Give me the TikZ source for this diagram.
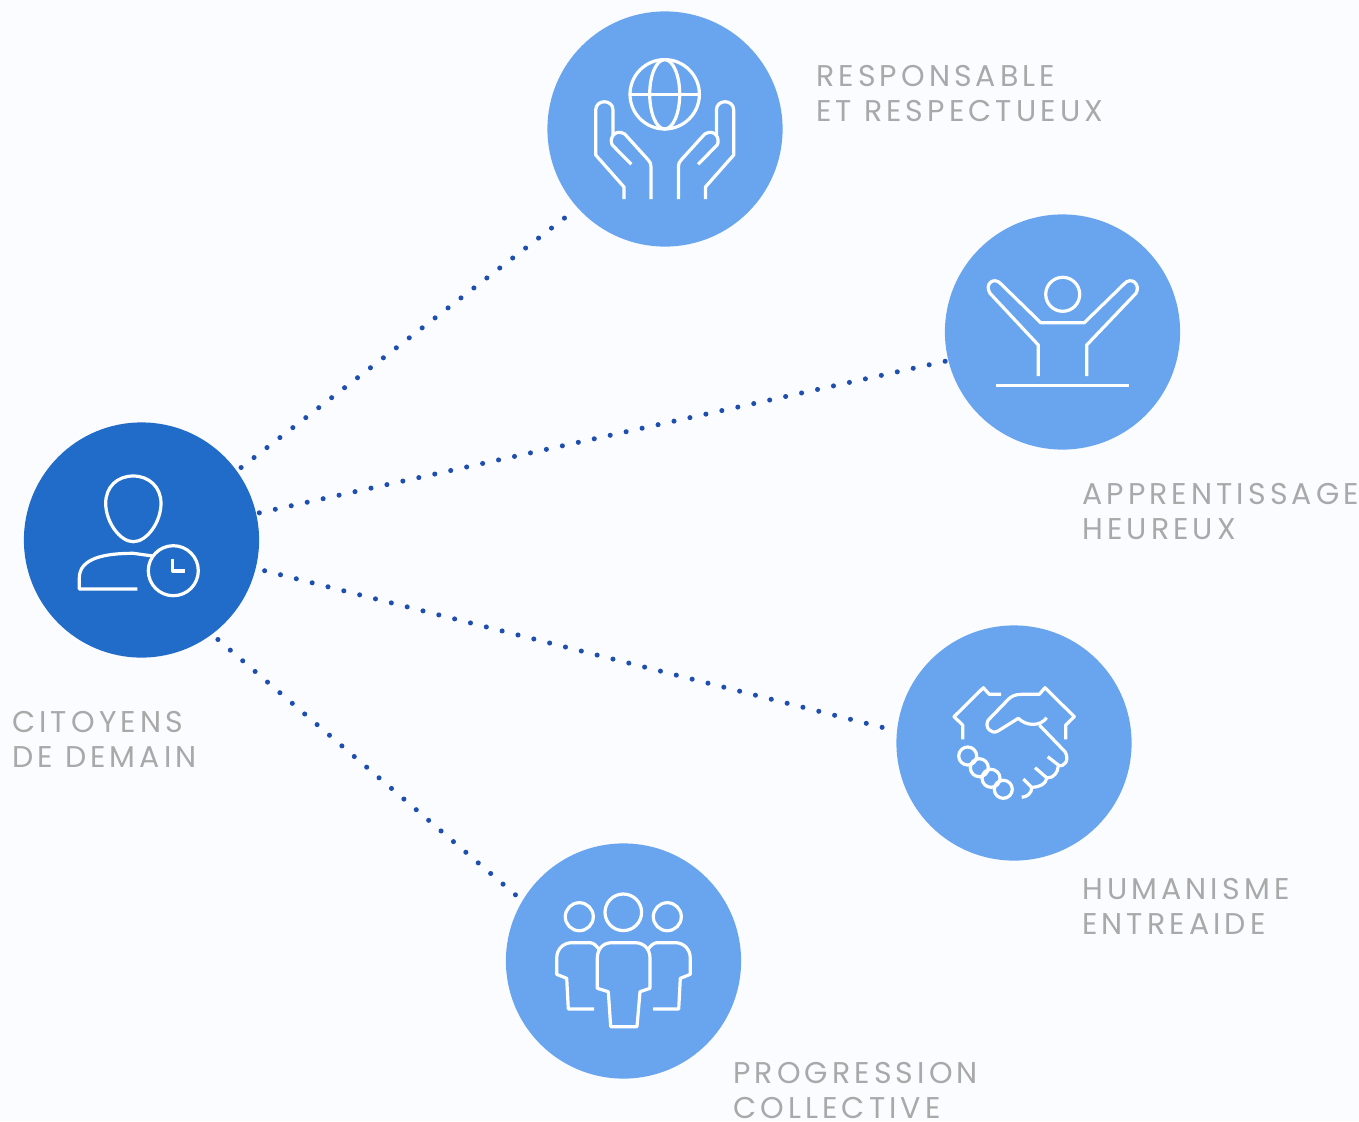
\documentclass[tikz,border=0pt]{standalone}
\usepackage{fontspec}
\setmainfont[LetterSpace=13.7]{Poppins}
\definecolor{pagebg}{HTML}{FBFCFF}
\definecolor{lightblue}{HTML}{68A5EE}
\definecolor{darkblue}{HTML}{216CC8}
\definecolor{dotblue}{HTML}{1F4FAE}
\definecolor{labelgray}{HTML}{A9A9A9}
\tikzset{
    bubble/.style={circle, fill=lightblue, minimum size=176.4pt, inner sep=0pt, outer sep=2pt},
    dotline/.style={dotblue, line width=3.8pt, line cap=round, dash pattern=on 0pt off 12.25pt},
    icon/.style={white, line width=2.4pt, line join=round},
    caption/.style={labelgray, anchor=north west, align=left, inner sep=0pt, font=\fontsize{22.5}{26.25}\selectfont}
}
\begin{document}
\begin{tikzpicture}[x=0.75pt,y=-0.75pt]
    \useasboundingbox[fill=pagebg] (0,0) rectangle (1359,1121);
    % circles
    \node[bubble, fill=darkblue] (citoyens) at (141.5,540) {};
    \node[bubble] (responsable) at (665,129) {};
    \node[bubble] (apprentissage) at (1062.5,332) {};
    \node[bubble] (humanisme) at (1014,743) {};
    \node[bubble] (progression) at (623.5,961) {};
    % dotted links
    \foreach \from/\target/\tangle/\gap in {36/responsable/222/2.2pt,13/apprentissage/194/0.5pt,-14/humanisme/174/5pt,-53/progression/149/4pt}
        \draw[dotline, shorten <=\gap] (citoyens.\from) -- (\target.\tangle);
    % labels
    \node[caption] (lbl1) at (816,65) {RESPONSABLE\\ET RESPECTUEUX};
    \node[caption] (lbl2) at (1082,483) {APPRENTISSAGE\\HEUREUX};
    \node[caption] (lbl3) at (1082,878) {HUMANISME\\ENTREAIDE};
    \node[caption] (lbl4) at (733,1062) {PROGRESSION\\COLLECTIVE};
    \node[caption] (lbl5) at (12,711) {CITOYENS\\DE DEMAIN};
    % person with clock
    \draw[icon] (133.3,476) .. controls (117,476) and (105.7,487) .. (105.7,503.3) .. controls (105.7,522) and (120,541.7) .. (133.3,541.7) .. controls (147,541.7) and (161,522) .. (161,503.3) .. controls (161,487) and (149,476) .. cycle;
    \draw[icon] (137.3,589) -- (79.3,589) -- (79.3,578) .. controls (79.3,558) and (105,553.3) .. (133.3,553.3) -- (152.7,556);
    \draw[icon] (173.3,570.7) circle[radius=25];
    \draw[icon] (172.7,559) -- (172.7,571) -- (185,571);
    % globe and hands
    \draw[icon] (664.7,94.3) circle[radius=34.7];
    \draw[icon] (664.7,94.3) ellipse[x radius=15, y radius=34.7];
    \draw[icon] (630,94.3) -- (699.4,94.3);
    \foreach \side in {1,-1} {
        \begin{scope}[shift={(664.7,0)},xscale=\side]
            \draw[icon] (-40.7,199) -- (-40.7,187) -- (-69,155) -- (-69,110) .. controls (-69,99) and (-51.7,99) .. (-51.7,110) -- (-51.7,135);
            \draw[icon] (-33.4,164.3) -- (-52.4,145) .. controls (-56,139) and (-50,128) .. (-40,134) -- (-16.4,160) .. controls (-14.5,162) and (-13.7,164) .. (-13.7,167) -- (-13.7,199);
        \end{scope}
    }
    % cheering person
    \draw[icon] (1062.7,294.3) circle[radius=17];
    \draw[icon] (1038.3,376) -- (1038.3,345) -- (990,293.3) .. controls (984,284) and (994,276) .. (1001,284) -- (1040.7,322.7) -- (1084.3,322.7) -- (1124,284) .. controls (1131,276) and (1141,284) .. (1136,293.3) -- (1086.7,345) -- (1086.7,376);
    \draw[icon] (996,385.3) -- (1129.3,385.3);
    % handshake
    \draw[icon] (1001,694.3) -- (989.3,694.3) -- (983.3,687.7) -- (954,716.7) -- (962.7,725) -- (962.7,739.3);
    \draw[icon] (1065.7,739.3) -- (1065.7,725) -- (1074.3,716.7) -- (1045,687.7) -- (1039.3,694.3) -- (1021.7,694.3) .. controls (1015,694.3) and (1011,696.5) .. (1008.3,699.3) -- (988.3,720) .. controls (984,727) and (991,735) .. (998,731) -- (1018.3,718.3) .. controls (1026,726) and (1040,727) .. (1046.7,717.7);
    \draw[icon] (1039.3,725) -- (1065,751.7) .. controls (1070,760) and (1064,768) .. (1058.3,765) -- (1047.7,756.7);
    \draw[icon] (1035,767.7) -- (1047,778) .. controls (1054,778) and (1058,772) .. (1058.3,766);
    \draw[icon] (1023.3,779) -- (1031.7,787.3) .. controls (1040,787) and (1046,784) .. (1046.7,778);
    \draw[icon] (1031.7,787.3) .. controls (1032,793) and (1027,797) .. (1021.7,797.3);
    \foreach \cx/\cy in {967.7/756,979.3/767.7,991/778.3,1003.3/789.3}
        \draw[icon] (\cx,\cy) circle[radius=9];
    % group of people
    \draw[icon] (579.3,916.7) circle[radius=14];
    \draw[icon] (623.3,912.3) circle[radius=18.3];
    \draw[icon] (667.3,916.7) circle[radius=14];
    \draw[icon] (610.7,1026.7) -- (637,1026.7) -- (640,991.7) -- (650,988.3) -- (650,958.3) .. controls (650,949) and (644,942.7) .. (635,942.7) -- (611.7,942.7) .. controls (603,942.7) and (597.3,949) .. (597.3,958.3) -- (597.3,988.3) -- (608.3,991.7) -- cycle;
    \foreach \side in {1,-1} {
        \begin{scope}[shift={(623.5,0)},xscale=\side]
            \draw[icon] (-29.5,1009) -- (-55.2,1009) -- (-56.8,978.3) -- (-66.8,974.3) -- (-66.8,958.3) .. controls (-66.8,949) and (-60,942.7) .. (-51.8,942.7) -- (-33.5,942.7) .. controls (-30,942.7) and (-26.5,946) .. (-24.2,950);
        \end{scope}
    }
\end{tikzpicture}
\end{document}
